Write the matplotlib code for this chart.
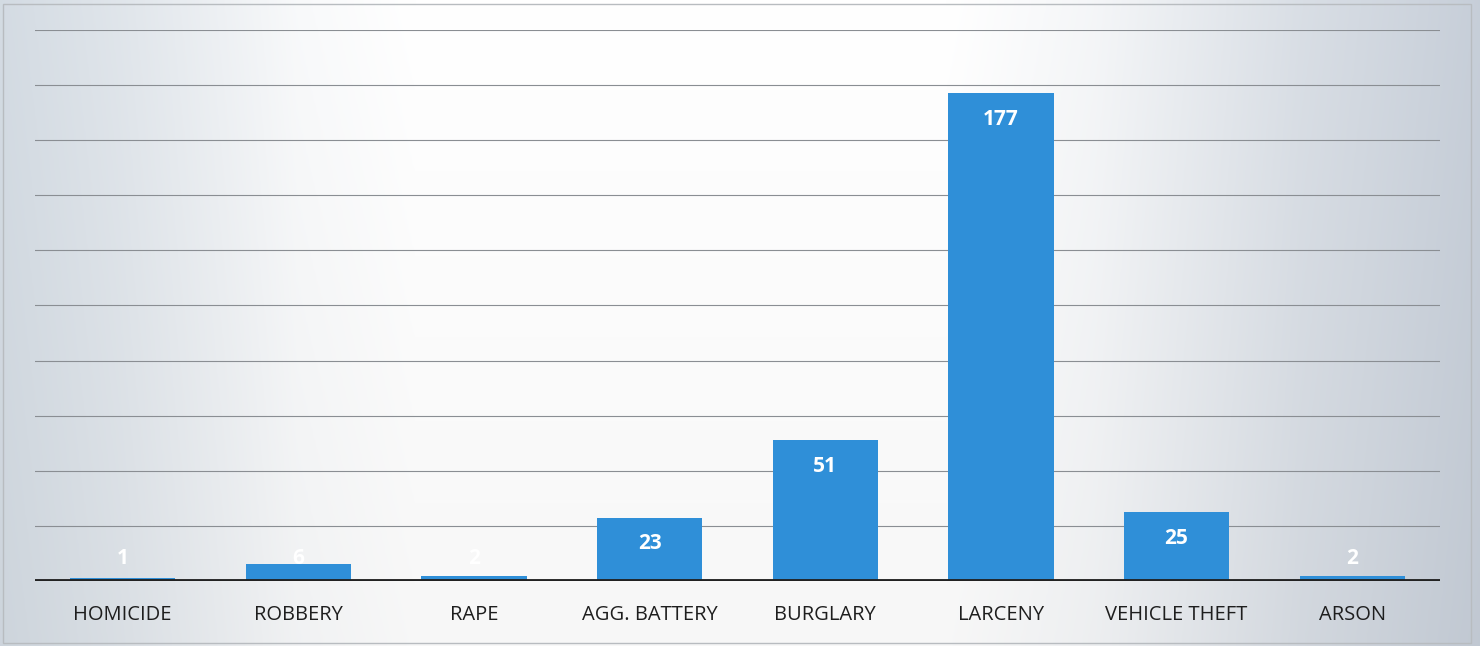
import matplotlib
matplotlib.use("Agg")
import matplotlib.pyplot as plt
import numpy as np

categories = ["HOMICIDE", "ROBBERY", "RAPE", "AGG. BATTERY", "BURGLARY",
              "LARCENY", "VEHICLE THEFT", "ARSON"]
values = [1, 6, 2, 23, 51, 177, 25, 2]
y_ticks = [0, 20, 40, 60, 80, 100, 120, 140, 160, 180, 200]

plt.rcParams['font.family'] = ['Open Sans', 'DejaVu Sans']

fig = plt.figure(figsize=(14.8, 6.46), dpi=100)

# background gradient
bg = fig.add_axes([0, 0, 1, 1], zorder=0)
xs = np.linspace(0, 1, 600)
prof = np.interp(xs, [0, 0.08, 0.2, 0.28, 0.64, 0.74, 0.88, 1.0],
                 [0.0, 0.3, 0.85, 1.0, 1.0, 0.8, 0.3, 0.0])
left = np.array([0.83, 0.86, 0.89])
right = np.array([0.78, 0.81, 0.85])
edge = np.outer(1 - xs, left) + np.outer(xs, right)
row = edge + (1 - edge) * prof[:, None]
img = np.tile(row[None, :, :], (50, 1, 1))
ys = np.linspace(0, 1, 50)
img = img * (1 - 0.03 * ys[:, None, None])
bg.imshow(np.clip(img, 0, 1), aspect='auto', extent=[0, 1, 0, 1])
bg.set_xlim(0, 1); bg.set_ylim(0, 1)
bg.axis('off')
bg.add_patch(plt.Rectangle((0.002, 0.004), 0.992, 0.99, fill=False,
                           edgecolor='#b8bcc0', lw=1))

ax = fig.add_axes([0.0236, 0.1006, 0.9494, 0.853], zorder=1)
ax.patch.set_alpha(0)
x = np.arange(len(categories))
ax.bar(x, values, width=0.6, color='#2f8fd8', zorder=3)
for yt in y_ticks[1:]:
    ax.axhline(yt, color='#8a8e93', lw=0.8, zorder=1)
ax.axhline(0, color='#222222', lw=3.5, zorder=4)
ax.set_xlim(-0.5, len(categories) - 0.5)
ax.set_ylim(0, 200)
ax.set_xticks(x)
ax.set_xticklabels(categories, fontsize=14.5, color='#1e1e1e')
ax.tick_params(axis='x', length=0, pad=17)
ax.set_yticks([])
for s in ax.spines.values():
    s.set_visible(False)

for xi, v in zip(x, values):
    ly = max(v - 9.5, 8.0)
    ax.text(xi, ly, str(v), ha='center', va='center', color='white',
            fontsize=15, fontweight='bold', zorder=5)

fig.savefig("out.png", dpi=100)
